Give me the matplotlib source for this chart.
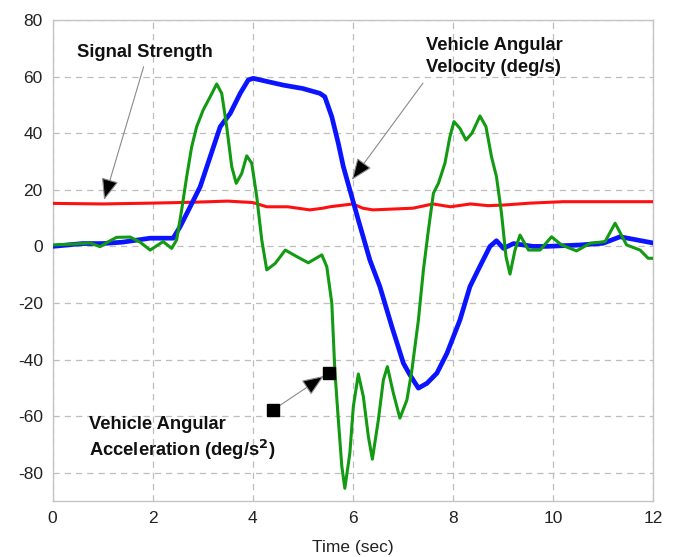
import matplotlib.pyplot as plt

plt.rcParams.update({
    "font.family": ["Liberation Sans", "DejaVu Sans"],
    "font.size": 12.5,
    "axes.unicode_minus": False,
})

# Vehicle angular velocity (deg/s)
vel_t = [0.0, 0.3, 0.6, 1.0, 1.4, 1.95, 2.41, 2.55, 2.75, 2.95, 3.15, 3.35,
         3.55, 3.75, 3.91, 4.01, 4.61, 5.0, 5.34, 5.44, 5.58, 5.71, 5.81,
         5.94, 6.11, 6.34, 6.54, 6.78, 7.01, 7.14, 7.31, 7.48, 7.68, 7.88,
         8.14, 8.34, 8.54, 8.74, 8.87, 9.01, 9.21, 9.6, 9.87, 10.54, 11.0,
         11.34, 11.67, 12.0]
vel_v = [0.0, 0.5, 1.0, 1.0, 1.5, 2.9, 2.9, 7.0, 14.0, 21.1, 31.7, 42.3,
         47.0, 54.1, 58.8, 59.4, 57.0, 55.8, 54.1, 52.9, 45.8, 36.4, 28.2,
         20.0, 9.3, -4.8, -14.2, -28.4, -41.3, -45.4, -50.1, -48.4, -44.8,
         -37.8, -26.0, -14.2, -7.0, 0.0, 2.0, -0.7, 1.0, 0.0, 0.0, 0.5, 1.1,
         3.4, 2.3, 1.2]

# Signal strength
sig_t = [0.0, 1.0, 2.0, 2.8, 3.5, 4.0, 4.28, 4.7, 5.14, 5.4, 5.54, 6.0, 6.2,
         6.4, 6.8, 7.2, 7.6, 7.95, 8.35, 8.7, 9.0, 9.55, 10.2, 11.0, 12.0]
sig_v = [15.2, 15.0, 15.3, 15.6, 16.0, 15.5, 14.0, 14.0, 12.9, 13.5, 14.0,
         15.0, 13.5, 12.9, 13.2, 13.5, 15.0, 14.0, 15.0, 14.4, 14.6, 15.3,
         15.8, 15.8, 15.8]

# Vehicle angular acceleration (deg/s^2)
acc_t = [0.0, 0.4, 0.75, 0.95, 1.1, 1.28, 1.55, 1.75, 1.95, 2.21, 2.38,
         2.48, 2.58, 2.68, 2.78, 2.88, 3.01, 3.15, 3.28, 3.38, 3.48, 3.58,
         3.67, 3.78, 3.88, 3.98, 4.08, 4.18, 4.28, 4.45, 4.65, 4.88, 5.11,
         5.38, 5.48, 5.58, 5.64, 5.71, 5.78, 5.84, 5.94, 6.01, 6.11, 6.21,
         6.31, 6.39, 6.51, 6.61, 6.69, 6.81, 6.94, 7.08, 7.18, 7.31, 7.41,
         7.51, 7.61, 7.71, 7.84, 7.94, 8.02, 8.14, 8.26, 8.38, 8.54, 8.66,
         8.77, 8.87, 8.97, 9.06, 9.14, 9.24, 9.34, 9.51, 9.74, 9.97, 10.17,
         10.47, 10.74, 11.04, 11.24, 11.47, 11.74, 11.9, 12.0]
acc_v = [0.5, 0.8, 1.2, -0.1, 1.5, 3.2, 3.3, 1.5, -1.3, 1.7, -0.7, 2.3,
         12.9, 24.6, 35.2, 42.3, 48.2, 52.9, 57.4, 54.1, 42.3, 28.2, 22.3,
         25.8, 32.0, 29.4, 17.6, 2.3, -8.3, -6.0, -1.3, -3.6, -5.8, -3.0,
         -7.2, -20.1, -43.7, -61.3, -77.8, -85.5, -73.1, -56.6, -45.1, -53.1,
         -67.2, -75.2, -61.3, -47.2, -42.5, -51.9, -60.7, -54.3, -43.7, -26.0,
         -8.3, 5.8, 18.8, 22.3, 29.4, 38.8, 44.1, 41.7, 37.6, 40.0, 46.1,
         42.3, 31.7, 24.6, 11.7, -3.6, -9.8, -1.3, 4.0, -1.3, -1.3, 3.4, 0.5,
         -1.6, 1.1, 1.7, 8.2, 0.5, -1.3, -4.2, -4.2]

fig = plt.figure(figsize=(6.76, 5.57), dpi=100)
ax = fig.add_axes([0.0777, 0.1005, 0.8885, 0.8635])

ax.plot(sig_t, sig_v, color="#ff1010", lw=2.2, zorder=3)
ax.plot(vel_t, vel_v, color="#0a14ff", lw=3.4, zorder=4,
        solid_joinstyle="round")
ax.plot(acc_t, acc_v, color="#129a12", lw=2.2, zorder=5,
        solid_joinstyle="round")

ax.set_xlim(0, 12)
ax.set_ylim(-90, 80)
ax.set_xticks(range(0, 13, 2))
ax.set_yticks(range(-80, 81, 20))
ax.tick_params(length=0, pad=7, colors="#222222")
ax.grid(True, color="#bdbdbd", ls=(0, (5, 4)), lw=0.9)
for sp in ax.spines.values():
    sp.set_color("#c4c4c4")
    sp.set_linewidth(1.0)
ax.set_xlabel("Time (sec)", labelpad=10, color="#222222")

arrow = dict(arrowstyle="-|>,head_length=0.75,head_width=0.3", fc="black",
             ec="#8a8a8a", lw=0.8, mutation_scale=18, shrinkA=0, shrinkB=0)
bold = dict(fontweight="bold", fontsize=13.2, color="#111111")

ax.annotate("", xy=(1.03, 16.4), xytext=(1.82, 63.5), arrowprops=arrow)
ax.text(0.49, 68.7, "Signal Strength", va="center", ha="left", **bold)

ax.annotate("", xy=(5.98, 23.5), xytext=(7.4, 57.7), arrowprops=arrow)
ax.text(7.46, 67.1, "Vehicle Angular\nVelocity (deg/s)", va="center",
        ha="left", linespacing=1.45, **bold)

ax.plot([4.41, 5.52], [-57.8, -44.7], ls="none", marker="s", ms=8,
        color="black", zorder=6)
ax.annotate("", xy=(5.42, -45.8), xytext=(4.45, -57.3), arrowprops=arrow)
ax.text(0.73, -68.0, "Vehicle Angular\nAcceleration (deg/s$^\\mathbf{2}$)",
        va="center", ha="left", linespacing=1.3, **bold)

fig.savefig("out.png", dpi=100)
